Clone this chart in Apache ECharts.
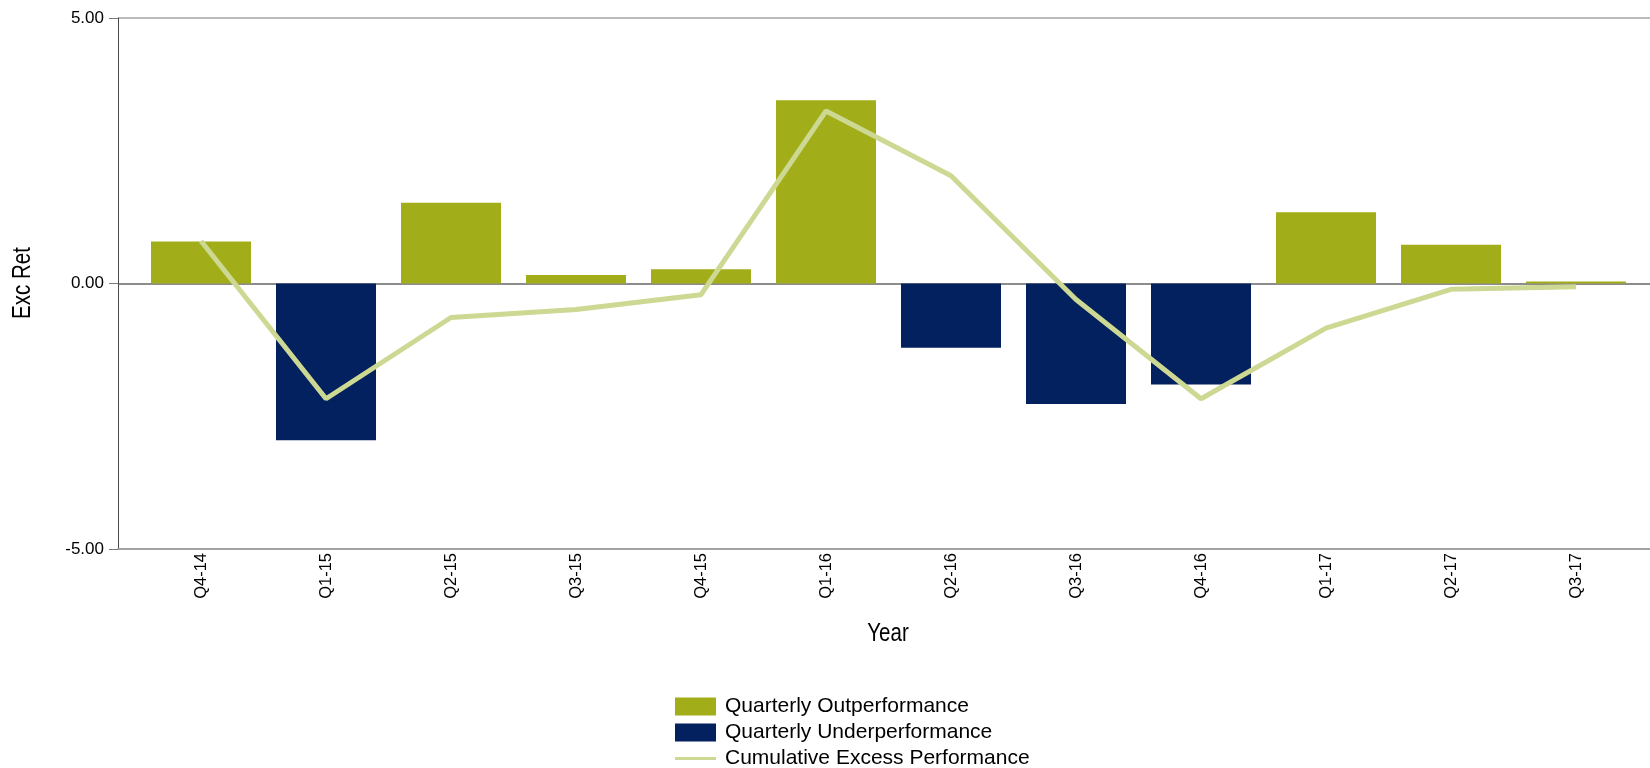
<!DOCTYPE html>
<html>
<head>
<meta charset="utf-8">
<script src="https://cdn.jsdelivr.net/npm/echarts@6/dist/echarts.min.js"></script>
<style>
html,body{margin:0;padding:0;background:#fff;}
#chart{width:1650px;height:768px;}
</style>
</head>
<body>
<div id="chart"></div>
<script>
const categories = ['Q4-14','Q1-15','Q2-15','Q3-15','Q4-15','Q1-16','Q2-16','Q3-16','Q4-16','Q1-17','Q2-17','Q3-17'];
const quarterlyExcess = [0.79, -2.95, 1.52, 0.16, 0.27, 3.45, -1.21, -2.27, -1.90, 1.34, 0.73, 0.04];
const cumulativeExcess = [0.80, -2.17, -0.64, -0.49, -0.21, 3.25, 2.03, -0.30, -2.17, -0.84, -0.11, -0.06];
const yTicks = { min: -5, max: 5, interval: 5 };
const seriesNames = ['Quarterly Outperformance', 'Quarterly Underperformance', 'Cumulative Excess Performance'];

const outperf = quarterlyExcess.map(v => v >= 0 ? v : null);
const underperf = quarterlyExcess.map(v => v < 0 ? v : null);

const SANS = "'Liberation Sans',Arial,sans-serif";

const legendText = { color: '#000', fontFamily: SANS, fontSize: 21, lineHeight: 18, padding: [0, 0, 0, 4] };

const chart = echarts.init(document.getElementById('chart'), null, {renderer: 'canvas'});
chart.setOption({
  backgroundColor: '#ffffff',
  animation: false,
  grid: [
    { left: 118, right: 0, top: 18, bottom: 219, containLabel: false },
    { left: 138.5, right: 11.5, top: 18, bottom: 219, containLabel: false }
  ],
  xAxis: [
    {
      gridIndex: 0, type: 'value', min: 0, max: 1,
      axisLine: { show: true, onZero: false, lineStyle: { color: '#9c9c9c', width: 1.5 } },
      axisTick: { show: false }, axisLabel: { show: false }, splitLine: { show: false }
    },
    {
      gridIndex: 1, type: 'category', data: categories,
      axisLine: { show: false }, axisTick: { show: false }, splitLine: { show: false },
      axisLabel: { rotate: 90, margin: 4, color: '#000', fontFamily: SANS, fontSize: 16.5 }
    }
  ],
  yAxis: [
    {
      gridIndex: 0, type: 'value', min: yTicks.min, max: yTicks.max, interval: yTicks.interval,
      axisLine: { show: true, onZero: false, lineStyle: { color: '#4a4a4a', width: 1 } },
      axisTick: { show: true, length: 9, lineStyle: { color: '#7a7a7a' } },
      axisLabel: { margin: 14, color: '#000', fontFamily: SANS, fontSize: 17, formatter: v => v.toFixed(2) },
      splitLine: { show: true, lineStyle: { color: ['#9c9c9c', '#666666', '#a6a6a6'], width: 1.5 } }
    },
    {
      gridIndex: 1, type: 'value', min: yTicks.min, max: yTicks.max, interval: yTicks.interval,
      show: false, splitLine: { show: false }
    }
  ],
  graphic: [
    {
      type: 'text', x: 23, y: 283, rotation: Math.PI / 2, scaleX: 0.82,
      style: { text: 'Exc Ret', fill: '#000', fontFamily: SANS, fontSize: 25, align: 'center', verticalAlign: 'middle' }
    },
    {
      type: 'text', x: 888, y: 634, scaleX: 0.82,
      style: { text: 'Year', fill: '#000', fontFamily: SANS, fontSize: 25, align: 'center', verticalAlign: 'middle' }
    }
  ],
  legend: [
    {
      left: 675, top: 696, padding: 0, itemWidth: 41, itemHeight: 18,
      textStyle: legendText, data: [{ name: seriesNames[0], icon: 'rect' }]
    },
    {
      left: 675, top: 722, padding: 0, itemWidth: 41, itemHeight: 18,
      textStyle: legendText, data: [{ name: seriesNames[1], icon: 'rect' }]
    },
    {
      left: 675, top: 748, padding: 0, itemWidth: 41, itemHeight: 3,
      textStyle: legendText, data: [{ name: seriesNames[2], icon: 'rect' }]
    }
  ],
  series: [
    {
      name: seriesNames[0], type: 'bar', xAxisIndex: 1, yAxisIndex: 1,
      data: outperf, barWidth: 100, barGap: '-100%',
      itemStyle: { color: '#a2ad1a' }, z: 3
    },
    {
      name: seriesNames[1], type: 'bar', xAxisIndex: 1, yAxisIndex: 1,
      data: underperf, barWidth: 100, barGap: '-100%',
      itemStyle: { color: '#02215e' }, z: 3
    },
    {
      name: seriesNames[2], type: 'line', xAxisIndex: 1, yAxisIndex: 1,
      data: cumulativeExcess, symbol: 'none', showSymbol: false,
      lineStyle: { color: '#cdd893', width: 5 }, itemStyle: { color: '#cdd893' }, z: 5
    }
  ]
});
</script>
</body>
</html>
